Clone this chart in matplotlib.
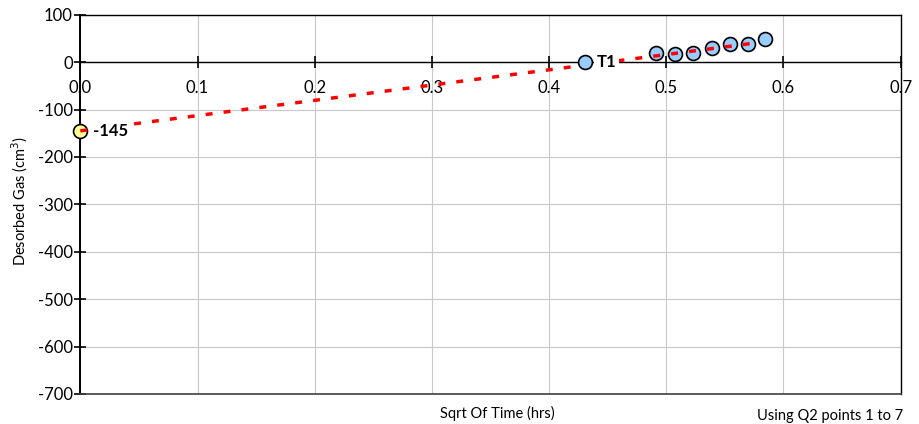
import matplotlib.pyplot as plt
import numpy as np

plt.rcParams['font.family'] = ['Lato', 'DejaVu Sans']
plt.rcParams['axes.unicode_minus'] = False

# desorption readings (sqrt hrs, cm3)
sqrt_t = [0.491, 0.5075, 0.523, 0.539, 0.554, 0.5695, 0.584]
gas = [19, 18, 19, 29, 38, 39, 48]

t1_x = 0.431
t1_y = 0
intercept = -145
slope = 322
fit_end = 0.573

fig = plt.figure(figsize=(9.19, 4.24), dpi=100)
ax = fig.add_axes([0.0874, 0.0708, 0.8926, 0.8945])

ax.set_xlim(0, 0.7)
ax.set_ylim(-700, 100)
ax.set_xticks(np.arange(0, 0.71, 0.1))
ax.set_yticks(np.arange(-700, 101, 100))
ax.set_xticklabels(['%.1f' % v for v in np.arange(0, 0.71, 0.1)])
ax.grid(True, color='#c8c8c8', lw=0.8)
ax.set_axisbelow(True)

ax.spines['bottom'].set_position(('data', 0))
for s in ['top', 'right', 'left', 'bottom']:
    ax.spines[s].set_color('black')
    ax.spines[s].set_linewidth(1.0)
ax.spines['left'].set_linewidth(1.4)
ax.axhline(-700, color='#404040', lw=1.2, clip_on=False, zorder=3)

ax.tick_params(axis='x', direction='inout', length=8, width=1.2, pad=9,
               labelsize=12, colors='black')
ax.tick_params(axis='y', direction='inout', length=9, width=1.2, pad=1,
               labelsize=12)

ax.plot(sqrt_t, gas, 'o', ms=10, mfc='#99ccff', mec='black', mew=1.2,
        zorder=3, clip_on=False)
ax.plot([0], [intercept], 'o', ms=10, mfc='#ffff99', mec='black', mew=1.2,
        zorder=3, clip_on=False)

# extrapolated line back to time zero
xf = np.array([0, fit_end])
ax.plot(xf, intercept + slope * xf, color='red', lw=2.5, ls=(0, (2.0, 3.2)),
        zorder=4)

# T1 point sits on top of the line
ax.plot([t1_x], [t1_y], 'o', ms=10, mfc='#99ccff', mec='black', mew=1.2,
        zorder=4.5)

ax.annotate('T1', (t1_x, t1_y), xytext=(8, 0), textcoords='offset points',
            va='center', ha='left', fontsize=12, fontweight='bold',
            bbox=dict(fc='white', ec='none', pad=2), zorder=5)
ax.annotate(str(intercept), (0, intercept), xytext=(9, 0),
            textcoords='offset points', va='center', ha='left', fontsize=12,
            fontweight='bold', bbox=dict(fc='white', ec='none', pad=3),
            zorder=5)

fig.text(0.022, 0.525, 'Desorbed Gas (cm$^3$)', rotation=90, ha='center',
         va='center', fontsize=10.5)
fig.text(0.541, 0.025, 'Sqrt Of Time (hrs)', ha='center', va='center',
         fontsize=10.5)
fig.text(0.903, 0.018, 'Using Q2 points 1 to 7', ha='center', va='center',
         fontsize=10.5)

fig.savefig('out.png', dpi=100)
